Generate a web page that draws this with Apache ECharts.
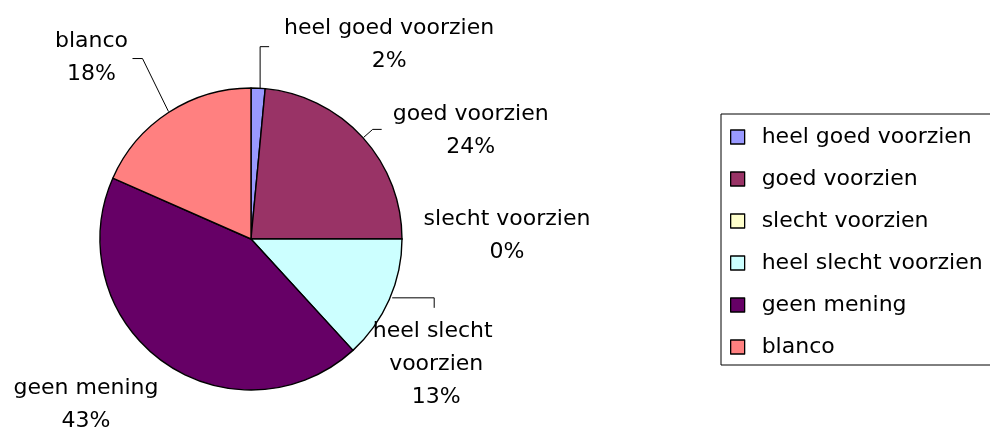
<!DOCTYPE html>
<html>
<head>
<meta charset="utf-8">
<script src="https://cdn.jsdelivr.net/npm/echarts@6/dist/echarts.min.js"></script>
<style>
  html, body { margin: 0; padding: 0; background: #fff; }
  #chart { width: 990px; height: 431px; }
</style>
</head>
<body>
<div id="chart"></div>
<script>
// ---- data ----
var categories = ['heel goed voorzien', 'goed voorzien', 'slecht voorzien', 'heel slecht voorzien', 'geen mening', 'blanco'];
var values = [1.5, 23.5, 0, 13.2, 43.4, 18.4];

// ---- styles ----
var colors = ['#9999FF', '#993366', '#FFFFCC', '#CCFFFF', '#660066', '#FF8080'];
// label placement relative to the slice's outer edge point (from the library's default label line)
var labelPlacement = [
  { dx: 131, dy: -43, line: [[2, 1], [2, -41.5], [11, -41.5]] },
  { dx: 108, dy: -7, line: [[1, 0], [10, -8], [19, -8]] },
  { dx: 105, dy: -3, line: null },
  { dx: 47, dy: 64, line: [[3, -2], [45, -2], [45, 8]], width: 140 },
  { dx: -77, dy: 43, line: null },
  { dx: -77, dy: -55, line: [[0, -1], [-26, -54], [-36, -54]] }
];
var FONT = 'DejaVu Sans';

var data = categories.map(function (c, i) {
  var item = { name: c, value: values[i], itemStyle: { color: colors[i] } };
  if (labelPlacement[i].width) {
    item.label = { width: labelPlacement[i].width, overflow: 'break' };
  }
  return item;
});

var chart = echarts.init(document.getElementById('chart'), null, { renderer: 'canvas' });
chart.setOption({
  animation: false,
  backgroundColor: '#fff',
  legend: {
    orient: 'vertical',
    left: 721,
    top: 114,
    padding: [11, 20, 6, 9],
    itemWidth: 14,
    itemHeight: 14,
    itemGap: 18,
    icon: 'rect',
    borderColor: '#000',
    borderWidth: 1,
    selectedMode: false,
    itemStyle: { borderColor: '#000', borderWidth: 1.3 },
    textStyle: { fontFamily: FONT, fontSize: 22, lineHeight: 24, color: '#000', padding: [0, 0, 0, 12] },
    data: categories
  },
  series: [{
    type: 'pie',
    center: [251, 239],
    radius: 151,
    startAngle: 90,
    clockwise: true,
    avoidLabelOverlap: false,
    emphasis: { disabled: true },
    itemStyle: { borderColor: '#000', borderWidth: 1.4 },
    label: {
      show: true,
      position: 'outside',
      fontFamily: FONT,
      fontSize: 22,
      lineHeight: 33,
      color: '#000',
      align: 'center',
      formatter: function (p) { return p.name + '\n' + Math.round(p.percent) + '%'; }
    },
    labelLine: { show: true, length: 10, length2: 10, lineStyle: { color: '#000', width: 1 } },
    labelLayout: function (p) {
      var pl = labelPlacement[p.dataIndex];
      var e = p.labelLinePoints ? p.labelLinePoints[0] : [0, 0];
      var out = { x: e[0] + pl.dx, y: e[1] + pl.dy, align: 'center', verticalAlign: 'middle' };
      if (pl.line) {
        out.labelLinePoints = pl.line.map(function (q) { return [e[0] + q[0], e[1] + q[1]]; });
      } else {
        out.labelLinePoints = [[e[0], e[1]], [e[0], e[1]], [e[0], e[1]]];
      }
      return out;
    },
    data: data
  }]
});
</script>
</body>
</html>
